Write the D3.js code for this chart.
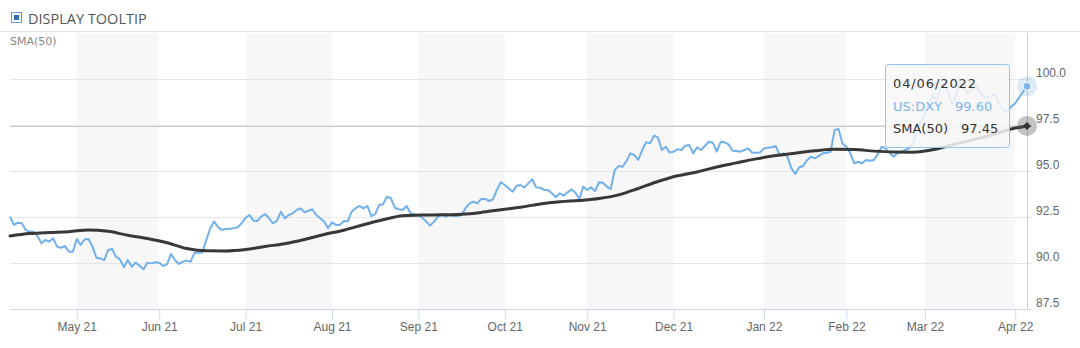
<!DOCTYPE html>
<html>
<head>
<meta charset="utf-8">
<script src="https://cdn.jsdelivr.net/npm/d3@7"></script>
<style>
  body { margin: 0; background: #fff; }
  svg { display: block; font-family: "DejaVu Sans", sans-serif; }
</style>
</head>
<body>
<div id="chart"></div>
<script>
// first trading day shown, the series runs on weekdays from here
const startDay = "2021-04-08";

// US:DXY close, one value per trading day
const dxy = [
  92.52, 92.07, 92.19, 92.16, 91.80, 91.70, 91.70, 91.47, 91.07, 91.25,
  91.16, 91.34, 90.89, 90.83, 90.92, 90.61, 90.61, 91.30, 90.98, 91.29,
  91.30, 90.89, 90.29, 90.25, 90.16, 90.71, 90.76, 90.34, 90.20, 89.77,
  90.16, 89.80, 90.02, 89.85, 89.66, 90.02, 89.98, 90.04, 90.02, 89.84,
  89.93, 90.49, 90.16, 89.95, 90.07, 90.13, 90.07, 90.56, 90.56, 90.58,
  91.25, 91.89, 92.25, 91.94, 91.80, 91.85, 91.86, 91.89, 91.94, 92.16,
  92.46, 92.61, 92.30, 92.28, 92.53, 92.66, 92.43, 92.16, 92.30, 92.79,
  92.43, 92.61, 92.70, 92.88, 92.97, 92.76, 92.84, 92.92, 92.61, 92.43,
  92.25, 91.89, 92.21, 92.07, 92.07, 92.28, 92.25, 92.79, 92.97, 93.10,
  92.97, 93.10, 92.55, 92.66, 93.15, 93.19, 93.60, 93.52, 93.00, 92.92,
  92.88, 93.10, 92.70, 92.65, 92.61, 92.46, 92.25, 92.03, 92.25, 92.52,
  92.61, 92.52, 92.61, 92.55, 92.55, 92.61, 92.97, 93.24, 93.33, 93.24,
  93.48, 93.48, 93.37, 93.46, 93.97, 94.39, 94.24, 94.06, 93.87, 94.20,
  94.24, 94.11, 94.33, 94.55, 94.11, 94.09, 93.97, 93.97, 93.79, 93.57,
  93.79, 93.66, 93.84, 94.00, 93.82, 93.48, 94.15, 93.97, 94.11, 93.91,
  94.39, 94.36, 94.15, 94.02, 95.05, 95.27, 95.23, 95.54, 95.96, 95.87,
  95.60, 96.14, 96.56, 96.50, 96.92, 96.83, 96.14, 96.32, 96.00, 96.05,
  96.18, 96.14, 96.37, 96.41, 95.96, 96.29, 96.14, 96.37, 96.59, 96.54,
  96.05, 96.59, 96.56, 96.45, 96.10, 96.09, 96.05, 96.14, 96.23, 95.99,
  95.99, 96.00, 96.23, 96.27, 96.29, 96.36, 95.87, 95.96, 95.78, 95.14,
  94.84, 95.20, 95.27, 95.60, 95.78, 95.69, 95.82, 95.96, 95.99, 96.05,
  97.23, 97.28, 96.50, 96.32, 95.96, 95.42, 95.50, 95.42, 95.60, 95.56,
  95.60, 95.92, 96.32, 96.23, 95.99, 95.78, 95.96, 96.05, 96.14, 96.23,
  96.50, 97.23, 97.68, 98.14, 98.68, 99.13, 98.77, 99.50, 99.77, 99.20,
  98.59, 99.20, 99.77, 99.50, 99.22, 99.40, 99.67, 99.30, 99.04, 99.00,
  99.10, 99.13, 98.60, 98.30, 98.22, 98.50, 98.68, 99.00, 99.30, 99.60
];

// SMA(50), read every 5th trading day plus the last one
const sma = [
  91.47, 91.60, 91.66, 91.70, 91.80, 91.72, 91.51, 91.33, 91.10, 90.79,
  90.66, 90.65, 90.73, 90.90, 91.05, 91.28, 91.55, 91.78, 92.08, 92.35,
  92.57, 92.61, 92.62, 92.65, 92.75, 92.90, 93.03, 93.21, 93.33, 93.40,
  93.50, 93.70, 94.05, 94.43, 94.74, 94.95, 95.22, 95.44, 95.66, 95.84,
  95.97, 96.10, 96.18, 96.17, 96.08, 96.03, 96.02, 96.15, 96.43, 96.68,
  96.96, 97.28, 97.45
];
const smaStep = 5;

const yTicks = [87.5, 90, 92.5, 95, 97.5, 100];
const tipDate = "04/06/2022";

const W = 1080, H = 348;
const plotL = 10, plotR = 1032, plotT = 33, plotB = 309;

// weekdays only, like the ordinal axis of the original
const parse = d3.timeParse("%Y-%m-%d");
const dates = [];
let day = parse(startDay);
while (dates.length < dxy.length) {
  if (day.getDay() % 6 !== 0) dates.push(day);
  day = d3.timeDay.offset(day, 1);
}
const n = dxy.length;

// first trading day of every month gets a tick
const monthTicks = d3.range(1, n).filter(i => dates[i].getMonth() !== dates[i - 1].getMonth());
const smaIdx = d3.range(0, n, smaStep);
if (smaIdx[smaIdx.length - 1] !== n - 1) smaIdx.push(n - 1);

const x = d3.scaleLinear().domain([0, n - 1]).range([plotL, 1027]);
const y = d3.scaleLinear().domain([87.5, 102.5]).range([plotB, plotT]);

const svg = d3.select("#chart").append("svg").attr("width", W).attr("height", H);

// header
svg.append("rect").attr("x", 11.5).attr("y", 12.5).attr("width", 10).attr("height", 10)
  .attr("fill", "#fff").attr("stroke", "#5f9ad6");
svg.append("rect").attr("x", 14).attr("y", 15).attr("width", 5).attr("height", 5)
  .attr("fill", "#2e6cb4");
svg.append("text").attr("x", 28).attr("y", 23.5).attr("fill", "#555")
  .style("font-family", "'Open Sans', sans-serif").style("font-size", "14.5px")
  .text("DISPLAY TOOLTIP");
svg.append("line").attr("x1", 0).attr("x2", W).attr("y1", 31.5).attr("y2", 31.5)
  .attr("stroke", "#e0e0e0");

// alternate month bands
const bands = [];
for (let k = 0; k + 1 < monthTicks.length; k += 2) bands.push([monthTicks[k], monthTicks[k + 1]]);
svg.append("g").selectAll("rect").data(bands).join("rect")
  .attr("x", d => x(d[0])).attr("width", d => x(d[1]) - x(d[0]))
  .attr("y", plotT).attr("height", plotB - plotT)
  .attr("fill", "#f7f7f7");

svg.append("text").attr("x", 10).attr("y", 45).attr("fill", "#888")
  .style("font-size", "11px").text("SMA(50)");

// y axis on the right, gridlines drawn leftwards
const yAxis = svg.append("g").attr("transform", `translate(${plotR},0)`)
  .call(d3.axisRight(y).tickValues(yTicks).tickSize(-(plotR - plotL)).tickPadding(4)
    .tickFormat(d3.format(".1f")));
yAxis.select(".domain").remove();
yAxis.selectAll(".tick line").attr("stroke", "#e6e6e6");
yAxis.selectAll(".tick text").attr("fill", "#666").attr("dy", "-3px")
  .style("font-size", "12px");

// x axis
const xAxis = svg.append("g").attr("transform", `translate(0,${plotB})`)
  .call(d3.axisBottom(x).tickValues(monthTicks).tickSize(10).tickPadding(3)
    .tickFormat(i => d3.timeFormat("%b %y")(dates[i])));
xAxis.select(".domain").remove();
xAxis.selectAll(".tick line").attr("stroke", "#ccd6eb");
xAxis.selectAll(".tick text").attr("fill", "#666").style("font-size", "12px");
svg.append("line").attr("x1", plotL).attr("x2", plotR).attr("y1", plotB + 0.5).attr("y2", plotB + 0.5)
  .attr("stroke", "#ccd6eb");

// crosshairs at the hovered point
const hoverY = Math.round(y(sma[sma.length - 1])) + 0.5;
svg.append("line").attr("x1", x(n - 1) + 0.5).attr("x2", x(n - 1) + 0.5).attr("y1", plotT).attr("y2", plotB)
  .attr("stroke", "#cccccc");
svg.append("line").attr("x1", plotL).attr("x2", plotR).attr("y1", hoverY).attr("y2", hoverY)
  .attr("stroke", "#c8c8c8");

// series
const dxyLine = d3.line().x((d, i) => x(i)).y(d => y(d));
svg.append("path").datum(dxy).attr("d", dxyLine)
  .attr("fill", "none").attr("stroke", "#72b0ec").attr("stroke-width", 2)
  .attr("stroke-linejoin", "round");

const smaLine = d3.line().curve(d3.curveMonotoneX).x((d, k) => x(smaIdx[k])).y(d => y(d));
svg.append("path").datum(sma).attr("d", smaLine)
  .attr("fill", "none").attr("stroke", "#383838").attr("stroke-width", 3)
  .attr("stroke-linecap", "round");

// hover markers
const lx = x(n - 1), ly = y(dxy[n - 1]), sy = y(sma[sma.length - 1]);
svg.append("circle").attr("cx", lx).attr("cy", ly).attr("r", 10)
  .attr("fill", "#7cb5ec").attr("opacity", 0.25);
svg.append("circle").attr("cx", lx).attr("cy", ly).attr("r", 4)
  .attr("fill", "#7cb5ec").attr("stroke", "#fff").attr("stroke-width", 1);
svg.append("circle").attr("cx", lx).attr("cy", sy).attr("r", 10)
  .attr("fill", "#555").attr("opacity", 0.35);
svg.append("path").attr("transform", `translate(${lx},${sy})`)
  .attr("d", d3.symbol(d3.symbolDiamond2, 40)()).attr("fill", "#333");

// tooltip
const tip = svg.append("g");
tip.append("rect").attr("x", 885.5).attr("y", 64.5).attr("width", 124).attr("height", 83).attr("rx", 3)
  .attr("fill", "rgba(247,247,247,0.85)").attr("stroke", "#93c3ef");
const tt = tip.append("text").style("font-size", "13px");
tt.append("tspan").attr("x", 893).attr("y", 88).attr("fill", "#333")
  .style("letter-spacing", "0.9px").text(tipDate);
tt.append("tspan").attr("x", 893).attr("y", 110.5).attr("fill", "#7cb5ec").text("US:DXY");
tt.append("tspan").attr("x", 955).attr("y", 110.5).attr("fill", "#7cb5ec").text(d3.format(".2f")(dxy[n - 1]));
tt.append("tspan").attr("x", 893).attr("y", 132.5).attr("fill", "#333").text("SMA(50)");
tt.append("tspan").attr("x", 961).attr("y", 132.5).attr("fill", "#333").text(d3.format(".2f")(sma[sma.length - 1]));
</script>
</body>
</html>
